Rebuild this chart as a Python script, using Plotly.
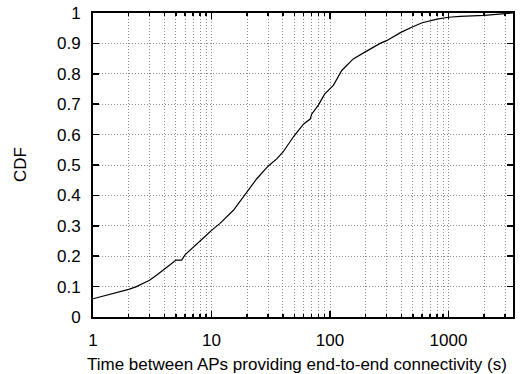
import numpy as np
import plotly.graph_objects as go

# Data (time in seconds, CDF)
time_s = [1, 1.5, 2, 2.3, 2.6, 3, 3.5, 4, 4.5, 5, 5.6, 6, 7, 8, 9, 10,
          11.8, 15.3, 20, 24, 30, 35.5, 40, 50, 60, 68, 70, 80, 90, 100,
          106.7, 125.6, 157, 200, 265, 300, 400, 500, 600, 800, 1000,
          1256, 2000, 3000, 3500]
cdf = [0.060, 0.077, 0.091, 0.099, 0.108, 0.121, 0.140, 0.159, 0.173, 0.187,
       0.187, 0.205, 0.228, 0.249, 0.268, 0.285, 0.308, 0.351, 0.411, 0.454,
       0.496, 0.520, 0.542, 0.597, 0.635, 0.651, 0.667, 0.698, 0.733, 0.752,
       0.762, 0.811, 0.849, 0.873, 0.900, 0.909, 0.937, 0.955, 0.968, 0.980,
       0.986, 0.989, 0.992, 0.998, 1.0]

x_tickvals = [1, 10, 100, 1000]
x_ticktext = ["1", "10", "100", "1000"]
y_tickvals = [0, 0.1, 0.2, 0.3, 0.4, 0.5, 0.6, 0.7, 0.8, 0.9, 1]
y_ticktext = ["0", "0.1", "0.2", "0.3", "0.4", "0.5", "0.6", "0.7", "0.8", "0.9", "1"]
x_title = "Time between APs providing end-to-end connectivity (s)"
y_title = "CDF"

FONT = "Liberation Sans, Arial, Helvetica, sans-serif"
GRIDDASH = "1px,2px"
GRIDCOLOR = "#8c8c8c"

# Plot area in the 528x374 window
PLOT_L, PLOT_R, PLOT_T, PLOT_B = 93, 513, 13, 317
PW, PH = PLOT_R - PLOT_L, PLOT_B - PLOT_T

fig = go.Figure()
fig.add_trace(go.Scatter(x=time_s, y=cdf, mode="lines",
                         line=dict(color="black", width=1.2),
                         showlegend=False, hoverinfo="skip"))

fig.update_xaxes(type="log", range=[0, np.log10(3500)],
                 tickvals=x_tickvals, ticktext=x_ticktext,
                 ticks="inside", ticklen=6, tickwidth=1.5, tickcolor="black",
                 showline=True, linecolor="black", linewidth=2, mirror="allticks",
                 zeroline=False, ticklabelstandoff=7, ticklabeloverflow="allow",
                 showgrid=True, gridcolor=GRIDCOLOR, gridwidth=1, griddash=GRIDDASH,
                 minor=dict(ticks="inside", ticklen=3, tickcolor="black",
                            dtick="D1", showgrid=True, gridcolor=GRIDCOLOR,
                            gridwidth=1, griddash=GRIDDASH),
                 tickfont=dict(family=FONT, size=17, color="black"))
fig.update_yaxes(range=[0, 1], tickvals=y_tickvals, ticktext=y_ticktext,
                 ticks="inside", ticklen=6, tickwidth=1.5, tickcolor="black",
                 showline=True, linecolor="black", linewidth=2, mirror="allticks",
                 zeroline=False, ticklabelstandoff=7, ticklabeloverflow="allow",
                 showgrid=True, gridcolor=GRIDCOLOR, gridwidth=1, griddash=GRIDDASH,
                 tickfont=dict(family=FONT, size=17, color="black"))

fig.add_annotation(text=x_title, xref="paper", yref="paper",
                   x=(297 - PLOT_L) / PW, y=-(364 - PLOT_B) / PH,
                   xanchor="center", yanchor="middle", showarrow=False,
                   font=dict(family=FONT, size=17, color="black"))
fig.add_annotation(text=y_title, xref="paper", yref="paper",
                   x=-(PLOT_L - 20) / PW, y=0.5, textangle=-90,
                   xanchor="center", yanchor="middle", showarrow=False,
                   font=dict(family=FONT, size=17, color="black"))

fig.update_layout(width=528, height=374,
                  margin=dict(l=PLOT_L, r=528 - PLOT_R, t=PLOT_T,
                              b=374 - PLOT_B, autoexpand=False),
                  paper_bgcolor="white", plot_bgcolor="white",
                  hovermode=False,
                  font=dict(family=FONT, size=17, color="black"))

fig.write_html("out.html",
               config={"displayModeBar": False, "staticPlot": True},
               post_script="document.body.style.margin='0';document.body.style.overflow='hidden';")
